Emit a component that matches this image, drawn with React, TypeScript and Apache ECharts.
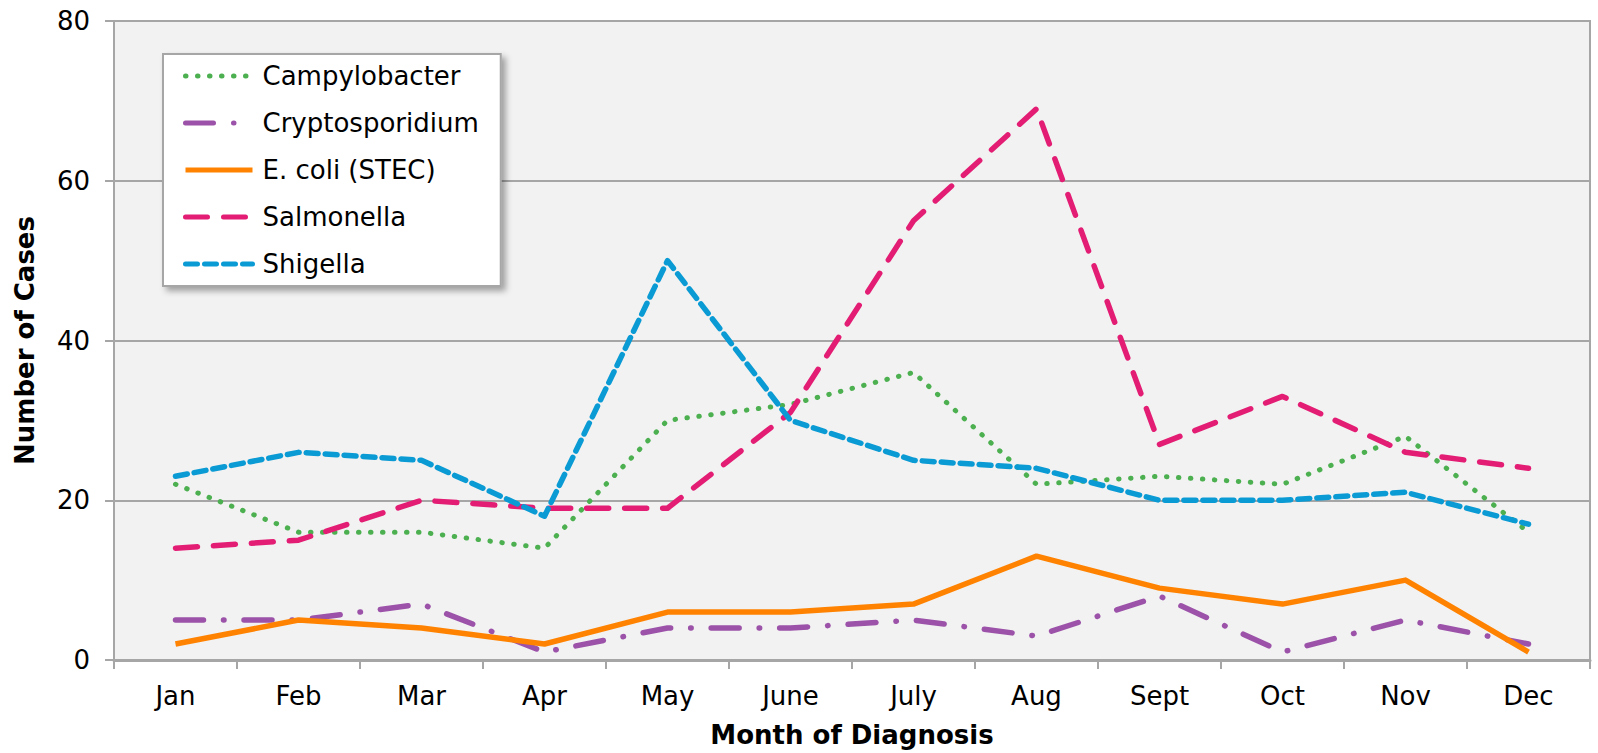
import React, { useEffect, useRef } from "react";
import * as echarts from "echarts";

const months = ["Jan", "Feb", "Mar", "Apr", "May", "June", "July", "Aug", "Sept", "Oct", "Nov", "Dec"];
const campylobacter = [22, 16, 16, 14, 30, 32, 36, 22, 23, 22, 28, 16];
const cryptosporidium = [5, 5, 7, 1, 4, 4, 5, 3, 8, 1, 5, 2];
const ecoli = [2, 5, 4, 2, 6, 6, 7, 13, 9, 7, 10, 1];
const salmonella = [14, 15, 20, 19, 19, 31, 55, 69, 27, 33, 26, 24];
const shigella = [23, 26, 25, 18, 50, 30, 25, 24, 20, 20, 21, 17];

const FONT = "DejaVu Sans";
const FS = 26;

export default function App() {
  const ref = useRef<HTMLDivElement>(null);
  useEffect(() => {
    if (!ref.current) return;
    const chart = echarts.init(ref.current, null, { renderer: "svg" });
    const mk = (name: string, data: number[], color: string, width: number, type: any, cap: any) => ({
      name,
      type: "line",
      data,
      symbol: "none",
      color,
      lineStyle: { color, width, type, cap, join: "round" },
    });
    chart.setOption({
      animation: false,
      backgroundColor: "#ffffff",
      grid: {
        left: 114,
        right: 8,
        top: 21,
        bottom: 91,
        show: true,
        backgroundColor: "#f2f2f2",
        borderColor: "#a6a6a6",
        borderWidth: 2,
      },
      legend: {
        orient: "vertical",
        left: 163,
        top: 54,
        backgroundColor: "#ffffff",
        borderColor: "#a6a6a6",
        borderWidth: 2,
        padding: [9, 22, 9, 20],
        itemGap: 21,
        itemWidth: 67,
        itemHeight: 26,
        shadowBlur: 6,
        shadowColor: "rgba(0,0,0,0.35)",
        shadowOffsetX: 4,
        shadowOffsetY: 4,
        itemStyle: { opacity: 0, borderWidth: 0 },
        lineStyle: { width: 5 },
        textStyle: { fontFamily: FONT, fontSize: FS, color: "#000", padding: [0, 0, 0, 5] },
      },
      xAxis: {
        type: "category",
        data: months,
        boundaryGap: true,
        name: "Month of Diagnosis",
        nameLocation: "middle",
        nameGap: 62,
        nameTextStyle: { fontFamily: FONT, fontSize: FS, fontWeight: "bold", color: "#000" },
        axisLine: { lineStyle: { color: "#a6a6a6", width: 3 } },
        axisTick: { show: true, length: 9, lineStyle: { color: "#a6a6a6", width: 2 } },
        axisLabel: { fontFamily: FONT, fontSize: FS, color: "#000", margin: 23 },
        splitLine: { show: false },
      },
      yAxis: {
        type: "value",
        min: 0,
        max: 80,
        interval: 20,
        name: "Number of Cases",
        nameLocation: "middle",
        nameGap: 76,
        nameTextStyle: { fontFamily: FONT, fontSize: FS, fontWeight: "bold", color: "#000" },
        axisLine: { show: true, lineStyle: { color: "#a6a6a6", width: 2 } },
        axisTick: { show: true, length: 9, lineStyle: { color: "#a6a6a6", width: 2 } },
        axisLabel: { fontFamily: FONT, fontSize: FS, color: "#000", margin: 24 },
        splitLine: { show: true, lineStyle: { color: "#a6a6a6", width: 2 } },
      },
      series: [
        mk("Campylobacter", campylobacter, "#4cb050", 5, [0.5, 11.5], "round"),
        mk("Cryptosporidium", cryptosporidium, "#9b52a8", 5.5, [28, 20, 0.5, 20], "round"),
        mk("E. coli (STEC)", ecoli, "#ff8300", 5.5, "solid", "butt"),
        mk("Salmonella", salmonella, "#e31d74", 5.5, [22, 16], "round"),
        mk("Shigella", shigella, "#0a9ad4", 5.5, [12, 7], "round"),
      ],
    });
    return () => chart.dispose();
  }, []);
  return (
    <div
      ref={ref}
      style={{ position: "fixed", left: 0, top: 0, width: 1598, height: 753, background: "#fff" }}
    />
  );
}
